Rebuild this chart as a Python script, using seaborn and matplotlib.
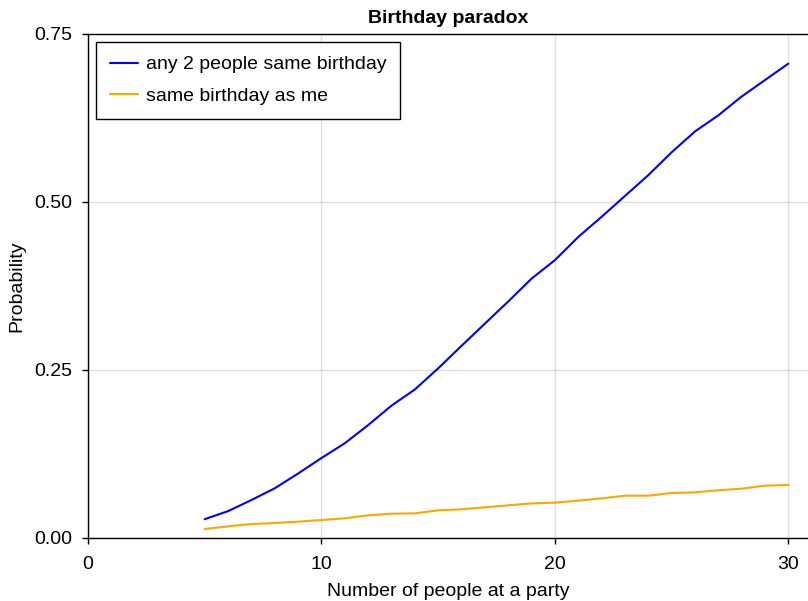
import numpy as np
import pandas as pd
import matplotlib
matplotlib.use("Agg")
import matplotlib.pyplot as plt
import seaborn as sns

# Values (simulated probabilities)
people = list(range(5, 31))
any_two = [0.028, 0.040, 0.0565, 0.074, 0.096, 0.119, 0.141, 0.168, 0.197, 0.221,
           0.2525, 0.286, 0.319, 0.352, 0.386, 0.4135, 0.448, 0.478, 0.509, 0.540,
           0.574, 0.605, 0.629, 0.657, 0.6815, 0.706]
same_as_me = [0.0134, 0.0174, 0.0208, 0.0223, 0.0243, 0.0268, 0.0293, 0.0337, 0.0362, 0.0367,
              0.0412, 0.0427, 0.0457, 0.0486, 0.0516, 0.0526, 0.0556, 0.059, 0.063, 0.063,
              0.067, 0.068, 0.071, 0.0734, 0.0779, 0.0789]
labels = ["any 2 people same birthday", "same birthday as me"]
x_ticks = [0, 10, 20, 30]
y_ticks = [0.0, 0.25, 0.5, 0.75]

df = pd.DataFrame({
    "people": people * 2,
    "prob": any_two + same_as_me,
    "series": [labels[0]] * len(people) + [labels[1]] * len(people),
})

sns.set_style("ticks")
plt.rcParams["font.family"] = ["Liberation Sans", "DejaVu Sans"]
plt.rcParams["font.size"] = 14
plt.rcParams["text.color"] = "black"
plt.rcParams["axes.labelcolor"] = "black"

fig = plt.figure(figsize=(8.08, 6.01), dpi=100)
ax = fig.add_axes([88 / 808, 1 - 538 / 601, 1 - 88 / 808, (538 - 34) / 601])

sns.lineplot(data=df, x="people", y="prob", hue="series",
             palette={labels[0]: "#0000ff", labels[1]: "#ffa500"},
             linewidth=1.5, ax=ax)

ax.set_xlim(0, 30.84)
ax.set_ylim(0, 0.75)
ax.set_xticks(x_ticks)
ax.set_xticklabels([str(t) for t in x_ticks])
ax.set_yticks(y_ticks)
ax.set_yticklabels([f"{t:.2f}" for t in y_ticks])
ax.grid(True, color="black", alpha=0.12, linewidth=1.0)
ax.tick_params(direction="out", length=4, width=1.0, labelsize=14, colors="black")
ax.tick_params(axis="x", pad=9)
ax.tick_params(axis="y", pad=7.5)
for side in ["left", "bottom", "top"]:
    ax.spines[side].set_color("black")
    ax.spines[side].set_linewidth(1.0)
ax.spines["right"].set_visible(False)

ax.set_xlabel("Number of people at a party", fontsize=14, labelpad=7)
ax.set_ylabel("Probability", fontsize=14, labelpad=6)
ax.set_title("Birthday paradox", fontsize=14, fontweight="bold", pad=8)

leg = ax.legend(loc="upper left", title=None, frameon=True, fancybox=False,
                edgecolor="black", fontsize=14, handlelength=1.45, handletextpad=0.4,
                borderaxespad=0.4, borderpad=0.72, labelspacing=0.72)
leg.get_frame().set_linewidth(1.0)
leg.get_frame().set_alpha(1)

fig.savefig("out.png", dpi=100)
